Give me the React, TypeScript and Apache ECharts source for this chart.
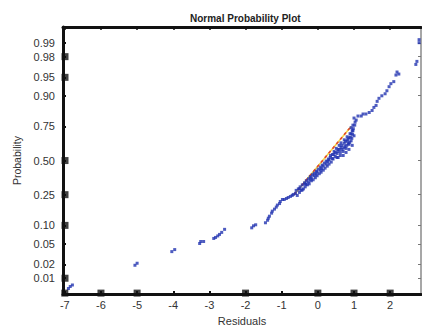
import React, { useEffect, useRef } from "react";
import * as echarts from "echarts";

// ---- data ----
const residualTicks = [-7, -6, -5, -4, -3, -2, -1, 0, 1, 2];
const probabilityTicks = [0.01, 0.02, 0.05, 0.1, 0.25, 0.5, 0.75, 0.9, 0.95, 0.98, 0.99];
// ticks drawn as heavy squares in the reference
const heavyResidualTicks = [-7, -6, -5, -2, 0, 1, 2];
const heavyProbabilityTicks = [0.01, 0.1, 0.25, 0.5, 0.95, 0.98];
// reference line through the quartiles
const refLineResiduals = [-0.66, 0.92];
const refLineProbabilities = [0.25, 0.75];
// [residual, normal score]
const samplePoints: [number, number][] = [
  [-6.9, -2.53], [-6.85, -2.49], [-6.79, -2.46],
  [-5.06, -2.07], [-5.0, -2.03],
  [-4.04, -1.8], [-3.96, -1.76],
  [-3.27, -1.64], [-3.24, -1.6], [-3.16, -1.6],
  [-2.88, -1.54], [-2.83, -1.52], [-2.77, -1.49], [-2.72, -1.46], [-2.66, -1.42], [-2.58, -1.36],
  [-1.83, -1.33], [-1.78, -1.29], [-1.72, -1.27],
  [-1.45, -1.23], [-1.39, -1.18], [-1.37, -1.14], [-1.34, -1.1], [-1.28, -1.04], [-1.26, -1.0],
  [-1.2, -0.96], [-1.15, -0.92], [-1.12, -0.88], [-1.06, -0.85], [-1.04, -0.81],
  [-0.98, -0.77], [-0.93, -0.77], [-0.87, -0.75], [-0.82, -0.73], [-0.76, -0.71], [-0.71, -0.69], [-0.68, -0.67],
  [-0.62, -0.65], [-0.6, -0.59], [-0.57, -0.69], [-0.54, -0.56], [-0.51, -0.63], [-0.49, -0.52],
  [-0.46, -0.59], [-0.43, -0.48], [-0.4, -0.56], [-0.37, -0.44], [-0.35, -0.52], [-0.32, -0.4],
  [-0.29, -0.48], [-0.26, -0.36], [-0.24, -0.46], [-0.21, -0.32], [-0.18, -0.4], [-0.15, -0.28],
  [-0.13, -0.38], [-0.1, -0.25], [-0.07, -0.34], [-0.04, -0.21], [-0.02, -0.3], [0.01, -0.17],
  [0.04, -0.26], [0.07, -0.13], [0.09, -0.23], [0.12, -0.09], [0.15, -0.19], [0.18, -0.05],
  [0.2, -0.15], [0.23, -0.01], [0.26, -0.11], [0.29, 0.03], [0.31, -0.07], [0.34, 0.06],
  [0.37, -0.03], [0.4, 0.12], [0.42, 0.03], [0.45, 0.18], [0.48, 0.08], [0.51, 0.24],
  [0.53, 0.14], [0.56, 0.06], [0.59, 0.3], [0.62, 0.16], [0.64, 0.35], [0.67, 0.22],
  [0.7, 0.1], [0.73, 0.41], [0.75, 0.28], [0.78, 0.16], [0.81, 0.47], [0.84, 0.34],
  [0.86, 0.22], [0.89, 0.53], [0.92, 0.39], [0.95, 0.3], [0.97, 0.59], [0.92, 0.65],
  [1.0, 0.49], [0.97, 0.7], [1.03, 0.76], [1.0, 0.84], [1.06, 0.8],
  [-0.51, -0.56], [-0.43, -0.58], [-0.35, -0.46], [-0.26, -0.42], [-0.18, -0.34], [-0.1, -0.3],
  [-0.02, -0.23], [0.07, -0.19], [0.15, -0.11], [0.23, -0.07], [0.31, 0.01], [0.4, 0.04],
  [0.48, 0.16], [0.56, 0.22], [0.64, 0.26], [0.73, 0.34], [0.81, 0.39], [0.86, 0.45],
  [0.92, 0.53], [0.95, 0.59], [0.7, 0.18], [0.78, 0.24], [0.86, 0.32], [0.62, 0.1], [0.53, 0.06],
  [0.66, 0.3], [0.72, 0.25], [0.76, 0.38], [0.8, 0.3], [0.83, 0.42], [0.88, 0.36], [0.9, 0.46],
  [0.94, 0.44], [0.98, 0.63], [0.96, 0.52], [0.35, 0.1], [0.44, 0.12], [0.27, -0.02], [0.1, -0.16],
  [-0.05, -0.27], [-0.2, -0.37], [-0.33, -0.47], [0.55, 0.18], [0.6, 0.22], [1.02, 0.7],
  [1.11, 0.88], [1.2, 0.88], [1.25, 0.92], [1.33, 0.92], [1.42, 0.95], [1.5, 0.99],
  [1.55, 1.05], [1.61, 1.09], [1.64, 1.17], [1.69, 1.23], [1.77, 1.28], [1.86, 1.32],
  [1.91, 1.38], [1.97, 1.46], [2.02, 1.52], [2.1, 1.56], [2.16, 1.69], [2.19, 1.75], [2.24, 1.71],
  [2.71, 1.9], [2.74, 1.96], [2.8, 2.33], [2.8, 2.39],
];

// inverse of the standard normal CDF (Acklam)
function probit(p: number): number {
  const a = [-3.969683028665376e1, 2.209460984245205e2, -2.759285104469687e2, 1.38357751867269e2, -3.066479806614716e1, 2.506628277459239];
  const b = [-5.447609879822406e1, 1.615858368580409e2, -1.556989798598866e2, 6.680131188771972e1, -1.328068155288572e1];
  const c = [-7.784894002430293e-3, -3.223964580411365e-1, -2.400758277161838, -2.549732539343734, 4.374664141464968, 2.938163982698783];
  const d = [7.784695709041462e-3, 3.224671290700398e-1, 2.445134137142996, 3.754408661907416];
  const plow = 0.02425;
  if (p < plow) {
    const q = Math.sqrt(-2 * Math.log(p));
    return (((((c[0] * q + c[1]) * q + c[2]) * q + c[3]) * q + c[4]) * q + c[5]) / ((((d[0] * q + d[1]) * q + d[2]) * q + d[3]) * q + 1);
  }
  if (p <= 1 - plow) {
    const q = p - 0.5;
    const r = q * q;
    return ((((((a[0] * r + a[1]) * r + a[2]) * r + a[3]) * r + a[4]) * r + a[5]) * q) / (((((b[0] * r + b[1]) * r + b[2]) * r + b[3]) * r + b[4]) * r + 1);
  }
  const q = Math.sqrt(-2 * Math.log(1 - p));
  return -(((((c[0] * q + c[1]) * q + c[2]) * q + c[3]) * q + c[4]) * q + c[5]) / ((((d[0] * q + d[1]) * q + d[2]) * q + d[3]) * q + 1);
}

const X_MIN = -7.05;
const X_MAX = 2.853;
const Z_MIN = -2.64;
const Z_MAX = 2.64;

export default function App() {
  const ref = useRef<HTMLDivElement>(null);
  useEffect(() => {
    if (!ref.current) return;
    const chart = echarts.init(ref.current, undefined, { renderer: "svg" });
    const probZ = probabilityTicks.map(probit);
    const labelFont = { fontFamily: "Liberation Sans, Arial, sans-serif", color: "#333", fontSize: 11 };
    chart.setOption({
      animation: false,
      backgroundColor: "#fff",
      title: {
        text: "Normal Probability Plot",
        left: 185,
        top: 8,
        textStyle: { fontFamily: "Liberation Sans, Arial, sans-serif", fontSize: 10, fontWeight: "bold", color: "#222" },
      },
      grid: { left: 63, right: 1, top: 27, bottom: 31.5, containLabel: false },
      xAxis: [
        {
          type: "value",
          min: X_MIN,
          max: X_MAX,
          position: "bottom",
          name: "Residuals",
          nameLocation: "middle",
          nameGap: 17,
          nameTextStyle: { ...labelFont, fontSize: 11 },
          splitLine: { show: false },
          axisLine: { onZero: false, lineStyle: { color: "#111", width: 3 } },
          axisTick: { inside: true, length: 3, lineStyle: { color: "#111", width: 2 }, customValues: residualTicks },
          axisLabel: { ...labelFont, margin: 5, customValues: residualTicks, formatter: (v: number) => String(Math.round(v)) },
        },
        {
          type: "value",
          min: X_MIN,
          max: X_MAX,
          position: "top",
          splitLine: { show: false },
          axisLine: { onZero: false, lineStyle: { color: "#111", width: 3 } },
          axisTick: { inside: true, length: 3, lineStyle: { color: "#111", width: 1.5 }, customValues: residualTicks },
          axisLabel: { show: false },
        },
      ],
      yAxis: [
        {
          type: "value",
          min: Z_MIN,
          max: Z_MAX,
          position: "left",
          name: "Probability",
          nameLocation: "middle",
          nameGap: 40,
          nameTextStyle: { ...labelFont, fontSize: 10.5 },
          splitLine: { show: false },
          axisLine: { onZero: false, lineStyle: { color: "#111", width: 3 } },
          axisTick: { inside: true, length: 3, lineStyle: { color: "#111", width: 2 }, customValues: probZ },
          axisLabel: {
            ...labelFont,
            margin: 8,
            customValues: probZ,
            formatter: (v: number) => {
              const i = probZ.findIndex((z) => Math.abs(z - v) < 1e-6);
              return i >= 0 ? probabilityTicks[i].toFixed(2) : "";
            },
          },
        },
        {
          type: "value",
          min: Z_MIN,
          max: Z_MAX,
          position: "right",
          splitLine: { show: false },
          axisLine: { onZero: false, lineStyle: { color: "#8a8a8a", width: 1.5 } },
          axisTick: { inside: true, length: 3, lineStyle: { color: "#777", width: 1 }, customValues: probZ },
          axisLabel: { show: false },
        },
      ],
      series: [
        {
          type: "line",
          data: refLineResiduals.map((r, i) => [r, probit(refLineProbabilities[i])]),
          symbol: "none",
          lineStyle: { color: "#f3d444", width: 1.6 },
          z: 3,
          silent: true,
        },
        {
          type: "line",
          data: refLineResiduals.map((r, i) => [r, probit(refLineProbabilities[i])]),
          symbol: "none",
          lineStyle: { color: "#e2462c", width: 1.6, type: [3, 3] },
          z: 4,
          silent: true,
        },
        {
          type: "scatter",
          data: samplePoints,
          symbol: "rect",
          symbolSize: 3,
          itemStyle: { color: "#2233b0" },
          z: 5,
          silent: true,
        },
        {
          type: "scatter",
          data: heavyProbabilityTicks.map((p) => [X_MIN, probit(p)]),
          symbol: "rect",
          symbolSize: 7,
          symbolOffset: [2, 0],
          itemStyle: { color: "#111" },
          clip: false,
          z: 6,
          silent: true,
        },
        {
          type: "scatter",
          data: heavyResidualTicks.map((r) => [r, Z_MIN]),
          symbol: "rect",
          symbolSize: 7,
          symbolOffset: [0, -1],
          itemStyle: { color: "#111" },
          clip: false,
          z: 6,
          silent: true,
        },
      ],
    });
    return () => chart.dispose();
  }, []);
  return (
    <div
      ref={ref}
      style={{ position: "fixed", left: 0, top: 0, width: 422, height: 331, background: "#fff" }}
    />
  );
}
